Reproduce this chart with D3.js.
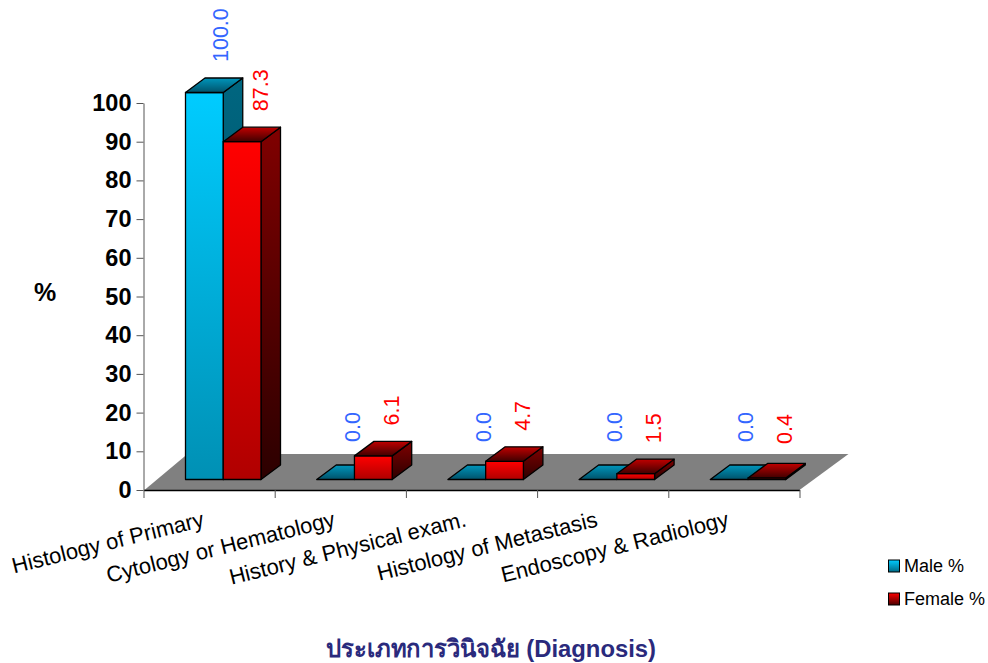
<!DOCTYPE html>
<html><head><meta charset="utf-8">
<script src="https://cdn.jsdelivr.net/npm/d3@7"></script>
<style>html,body{margin:0;padding:0;background:#fff}svg{display:block}text{font-family:"Liberation Sans",Arial,sans-serif}</style>
</head><body><div id="c"></div>
<script>
const categories=["Histology of Primary","Cytology or Hematology","History & Physical exam.","Histology of Metastasis","Endoscopy & Radiology"];
const maleValues=[100.0,0.0,0.0,0.0,0.0];
const femaleValues=[87.3,6.1,4.7,1.5,0.4];
const seriesNames=["Male %","Female %"];
const yTicks=[0,10,20,30,40,50,60,70,80,90,100];
const yTitle="%";
const xTitle="ประเภทการวินิจฉัย (Diagnosis)";

const W=988,H=663;
const svg=d3.select("#c").append("svg").attr("width",W).attr("height",H);
const defs=svg.append("defs");
function grad(id,a,b){const g=defs.append("linearGradient").attr("id",id).attr("x1",0).attr("y1",0).attr("x2",0).attr("y2",1);
 g.append("stop").attr("offset",0).attr("stop-color",a);g.append("stop").attr("offset",1).attr("stop-color",b);}
grad("mF","#00ccff","#0090b4");grad("mS","#006680","#004a5e");grad("mT","#0096bc","#00526a");
grad("fF","#ff0000","#b00000");grad("fS","#800000","#2c0000");grad("fT","#c00000","#400000");
grad("lM","#00ccff","#006a85");grad("lF","#ff0000","#4a0000");

const y=d3.scaleLinear().domain([0,100]).range([490,103]);
const xEdge=d3.scaleLinear().domain([0,5]).range([143.5,799.5]);
const x0=d3.scaleBand().domain(categories).range([143.5,799.5]);
const x1=d3.scaleBand().domain(seriesNames).range([42,117.5]);
const dx=19.5,dy=-14.5,lift=10.5;
const fdx=43,fdy=-36;

// floor
const x00=xEdge(0)+1,x05=xEdge(5);
svg.append("polygon").attr("fill","#808080")
 .attr("points",[[x00,y(0)],[x00+fdx,y(0)+fdy],[x05+49,y(0)+fdy],[x05,y(0)]].join(" "));

// axes
const ax=svg.append("g").attr("transform","translate(143.5,0)")
 .call(d3.axisLeft(y).tickValues(yTicks).tickSize(7).tickSizeOuter(0).tickFormat(d3.format("d")));
ax.selectAll("path,line").attr("stroke","#555").attr("stroke-width",1);
ax.selectAll("text").attr("font-size",23.5).attr("font-weight","bold").attr("fill","#000")
 .attr("font-family","Liberation Sans").attr("x",-12);
const bx=svg.append("g").attr("transform","translate(0,490)")
 .call(d3.axisBottom(xEdge).ticks(5).tickSize(8).tickSizeOuter(0).tickFormat(""));
bx.select("path").attr("stroke","#000").attr("stroke-width",1.5);
bx.selectAll("line").attr("stroke","#555");

// bars
const series=[{n:seriesNames[0],v:maleValues,k:"m",c:"#3366ff",off:4.5},{n:seriesNames[1],v:femaleValues,k:"f",c:"#ff0000",off:6}];
categories.forEach((cat,i)=>{
 series.forEach(s=>{
  const v=s.v[i],xl=x0(cat)+x1(s.n),xr=xl+x1.bandwidth(),yb=y(0)-lift,yt=y(v)-lift;
  const g=svg.append("g").attr("stroke","#000").attr("stroke-width",1.3).attr("stroke-linejoin","round");
  if(v>0){
   g.append("polygon").attr("fill",`url(#${s.k}S)`).attr("points",[[xr,yt],[xr+dx,yt+dy],[xr+dx,yb+dy],[xr,yb]].join(" "));
   g.append("rect").attr("x",xl).attr("y",yt).attr("width",xr-xl).attr("height",yb-yt).attr("fill",`url(#${s.k}F)`);
  }
  g.append("polygon").attr("fill",`url(#${s.k}T)`).attr("points",[[xl,yt],[xl+dx,yt+dy],[xr+dx,yt+dy],[xr,yt]].join(" "));
 });
});

// data labels
categories.forEach((cat,i)=>{
 series.forEach(s=>{
  const v=s.v[i],xc=x0(cat)+x1(s.n)+x1.bandwidth()/2+dx;
  const base=v===0?442:Math.min(444,y(v)-lift+dy-16);
  svg.append("text").attr("transform",`translate(${xc+s.off},${base}) rotate(-90)`)
   .attr("font-size",21.5).attr("fill",s.c).text(v.toFixed(1));
 });
});

// category labels
categories.forEach(cat=>{
 const xc=x0(cat)+x0.bandwidth()/2;
 svg.append("text").attr("transform",`translate(${xc-4},${526}) rotate(-14)`)
  .attr("text-anchor","end").attr("font-size",22).attr("fill","#000").text(cat);
});

// titles
svg.append("text").attr("x",45).attr("y",301).attr("text-anchor","middle").attr("font-size",25).attr("font-weight","bold").text(yTitle);
svg.append("text").attr("x",326).attr("y",657).attr("font-size",24).attr("font-weight","bold").attr("fill","#2a2a7c")
 .attr("textLength",330).attr("lengthAdjust","spacingAndGlyphs").attr("font-family","Noto Sans, Loma, DejaVu Sans, sans-serif").text(xTitle);

// legend
series.forEach((s,i)=>{
 const ly=560+i*33;
 svg.append("rect").attr("x",888.5).attr("y",ly).attr("width",11).attr("height",12).attr("fill",`url(#l${s.k==="m"?"M":"F"})`).attr("stroke","#000").attr("stroke-width",1);
 svg.append("text").attr("x",904).attr("y",ly+12).attr("font-size",18).attr("fill","#000").text(s.n);
});
</script></body></html>
